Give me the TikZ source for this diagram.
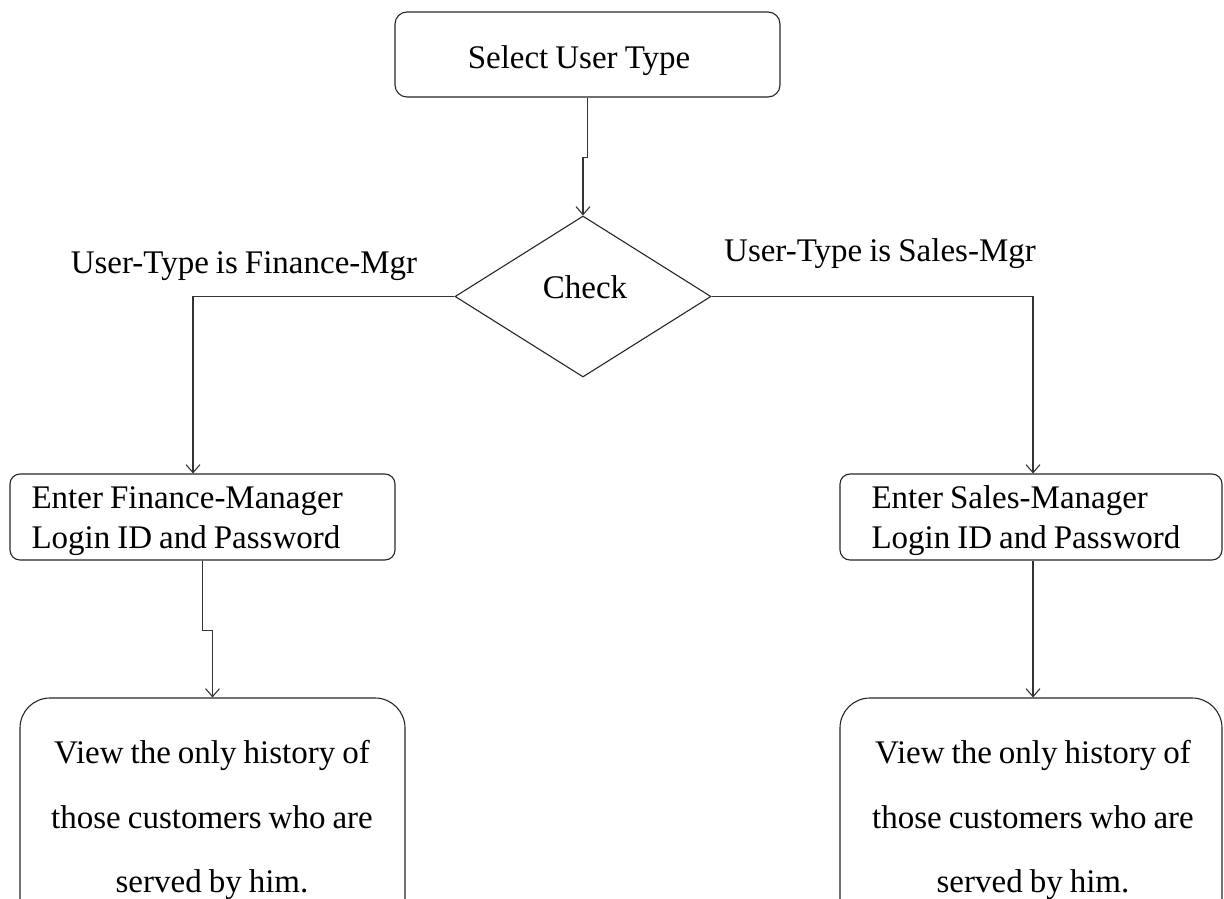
\documentclass[tikz,border=0pt]{standalone}
\usepackage{fontspec}
\setmainfont[WordSpace=0.85]{Liberation Serif}
\usetikzlibrary{shapes.geometric,arrows.meta,calc}
\begin{document}
\begin{tikzpicture}[x=1pt,y=-1pt,
  line width=1.1pt,
  every node/.style={font=\fontsize{33}{40}\selectfont, text=black},
  procbox/.style={draw=black!85, rounded corners=#1, inner sep=0pt},
  decision/.style={draw=black!85, diamond, inner sep=0pt, minimum width=256pt, minimum height=161pt},
  arr/.style={draw=black!80, -{Straight Barb[length=8pt,width=14pt,line width=1.1pt]}},
  lbl/.style={inner sep=0pt}
]
\useasboundingbox (0,0) rectangle (1224,899);
\clip (0,0) rectangle (1224,899);

% start box
\node[procbox=12pt, minimum width=385pt, minimum height=85pt] (sel) at (587.5,54.5) {};
\node[lbl] (selt) at (579,61) {Select User Type};

% decision
\node[decision] (chk) at (583,296.5) {};
\node[lbl] (chkt) at (585,287) {Check};

% branch labels
\node[lbl] (lf) at (244,266) {User-Type is Finance-Mgr};
\node[lbl] (ls) at (880,254) {User-Type is Sales-Mgr};

% login boxes
\node[procbox=10pt, minimum width=385pt, minimum height=86pt] (fin) at (202.5,517) {};
\node[lbl, anchor=west, align=left] (fint) at (31,521)
  {Enter Finance-Manager\\Login ID and Password};
\node[procbox=10pt, minimum width=382pt, minimum height=86pt] (sal) at (1031,517) {};
\node[lbl, anchor=west, align=left] (salt) at (871,521)
  {Enter Sales-Manager\\Login ID and Password};

% history boxes (run past the lower edge)
\node[procbox=30pt, minimum width=385pt, minimum height=237pt] (v1) at (212.5,816.5) {};
\node[lbl, align=center, font=\fontsize{33}{64.5}\selectfont] (v1t) at (212,820)
  {View the only history of\\those customers who are\\served by him.};
\node[procbox=30pt, minimum width=382pt, minimum height=237pt] (v2) at (1031,816.5) {};
\node[lbl, align=center, font=\fontsize{33}{64.5}\selectfont] (v2t) at (1033,820)
  {View the only history of\\those customers who are\\served by him.};

% connectors
\draw[arr] (sel.south) -- ++(0,60) -| (chk.north);
\draw[arr] (chk.west) -| ($(fin.north)+(-9.5,0)$);
\draw[arr] (chk.east) -| ($(sal.north)+(2,0)$);
\draw[arr] (fin.south) -- ++(0,70) -| (v1.north);
\draw[arr] ($(sal.south)+(2,0)$) -- ($(v2.north)+(2,0)$);
\end{tikzpicture}
\end{document}
